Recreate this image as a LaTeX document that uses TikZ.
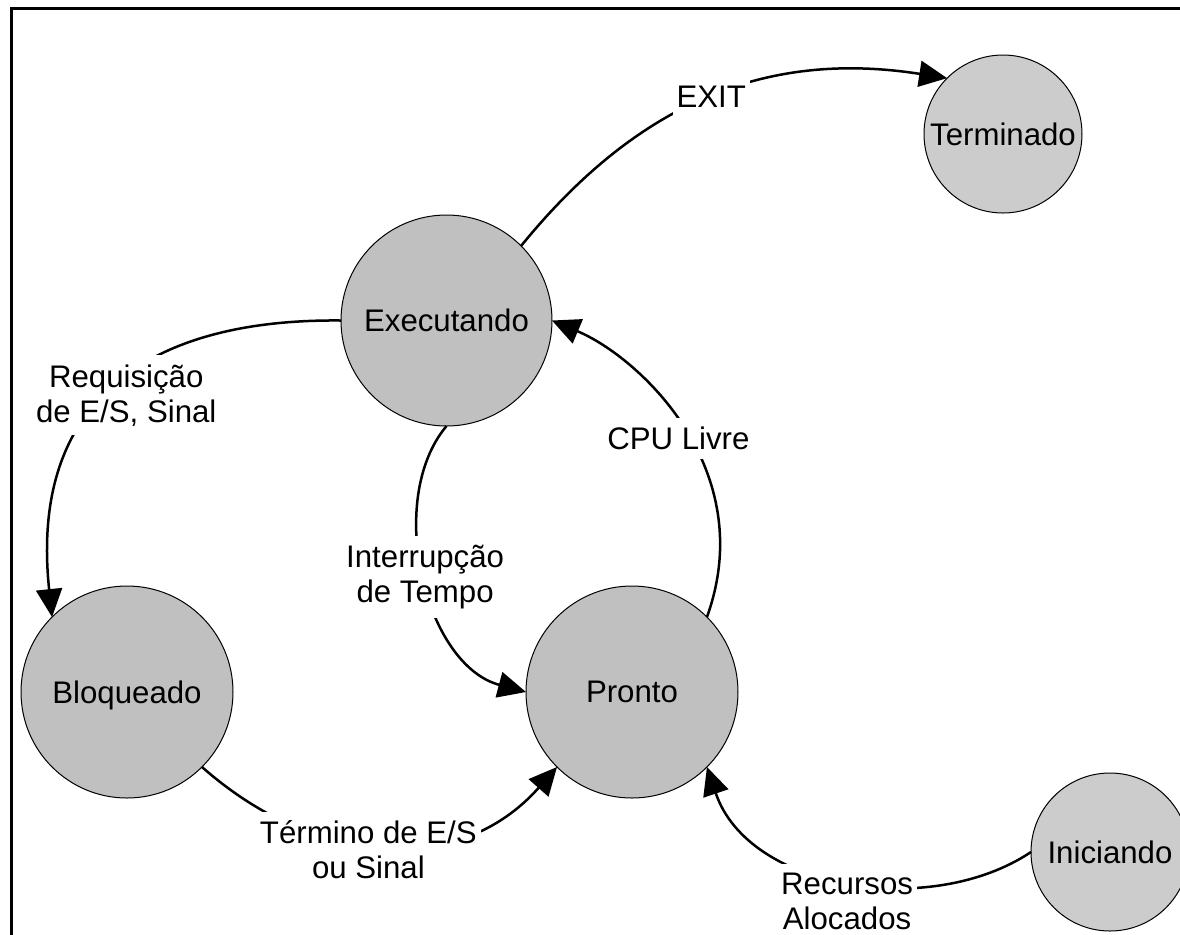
\documentclass[tikz,border=0pt]{standalone}
\usepackage{fontspec}
\setmainfont{Liberation Sans}
\usetikzlibrary{arrows.meta}
\definecolor{stategray}{RGB}{192,192,192}
\definecolor{endgray}{RGB}{204,204,204}
\begin{document}
\begin{tikzpicture}[x=0.5pt,y=-0.5pt,
  every node/.style={font=\fontsize{15.6}{17.5}\selectfont},
  state/.style={circle, draw=black, line width=0.5pt, fill=stategray,
    outer sep=0pt, inner sep=0pt, text depth=0pt},
  bigstate/.style={state, minimum size=106pt},
  smallstate/.style={state, fill=endgray, minimum size=79pt},
  edge/.style={line width=1.25pt, -{Triangle[length=14pt,width=13pt]}},
  lbl/.style={fill=white, align=center, inner xsep=2pt, inner ysep=4.5pt}
]
\useasboundingbox (0,0) rectangle (1180,934);
\clip (0,0) rectangle (1180,934);
% outer frame, only its left and top sides fall inside the page
\draw[line width=1.35pt] (11.3,8.5) rectangle (1200,960);

% process states
\node[bigstate, minimum size=105.5pt] (exe) at (446.5,320.5) {Executando};
\node[bigstate] (blo) at (127,692) {Bloqueado};
\node[bigstate] (pro) at (632,692) {Pronto};
\node[smallstate] (ter) at (1003,134) {Terminado};
\node[smallstate] (ini) at (1110,852) {Iniciando};

% transitions
\draw[edge] (exe.45) .. controls +(118,-145) and +(-179,-28) .. (ter.135)
  node[lbl, pos=0.5] {EXIT};
\draw[edge] (exe.180) .. controls +(-191,-2) and +(-23,-218) .. (blo.135)
  node[lbl, pos=0.5, xshift=5pt, yshift=-4.5pt] {Requisição\\de E/S, Sinal};
\draw[edge] (exe.270) .. controls +(-62,74) and +(-101,-27) .. (pro.180)
  node[lbl, pos=0.5] {Interrupção\\de Tempo};
\draw[edge] (pro.45) .. controls +(53,-147) and +(88,37) .. (exe.0)
  node[lbl, pos=0.5, xshift=-2pt, yshift=-5.5pt] {CPU Livre};
\draw[edge] (blo.-45) .. controls +(112,99) and +(-99,112) .. (pro.-135)
  node[lbl, pos=0.5, xshift=-8pt, yshift=-2pt] {Término de E/S\\ou Sinal};
\draw[edge] (ini.180) .. controls +(-100,67) and +(41.6,123.5) .. (pro.-45)
  node[lbl, pos=0.5, yshift=-10pt] {Recursos\\Alocados};
\end{tikzpicture}
\end{document}
